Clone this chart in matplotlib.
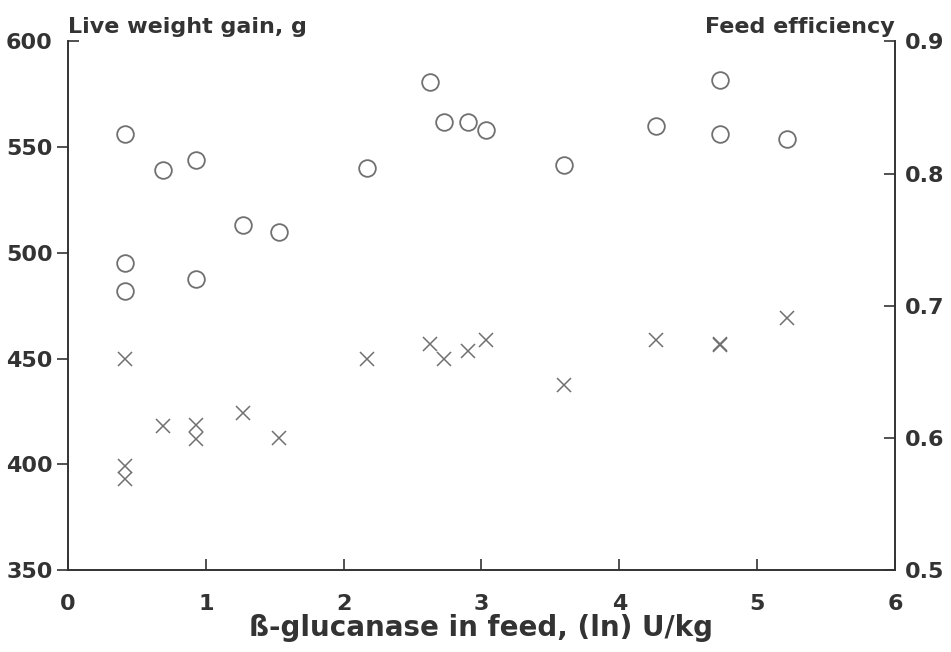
import matplotlib
matplotlib.use('Agg')
from matplotlib import pyplot as plt

plt.rcParams['font.family'] = 'DejaVu Sans'
plt.rcParams['font.weight'] = 'bold'

# enzyme dose, ln U/kg
dose = [0.41, 0.41, 0.41, 0.69, 0.93, 0.93, 1.27, 1.53, 2.17,
        2.63, 2.73, 2.90, 3.03, 3.60, 4.27, 4.73, 4.73, 5.22]
# live weight gain, g (open circles, left axis)
gain = [556, 495, 482, 539, 544, 487.5, 513, 510, 540,
        581, 562, 562, 558, 541.5, 560, 582, 556, 554]
# feed efficiency (crosses, right axis)
efficiency = [0.660, 0.579, 0.569, 0.609, 0.610, 0.599, 0.619, 0.600, 0.660,
              0.671, 0.660, 0.666, 0.674, 0.640, 0.674, 0.670, 0.671, 0.691]

x_ticks = [0, 1, 2, 3, 4, 5, 6]
gain_ticks = [350, 400, 450, 500, 550]
eff_ticks = [0.5, 0.6, 0.7, 0.8, 0.9]

ink = '#333333'
mark = '#707070'

fig = plt.figure(figsize=(9.51, 6.52), dpi=100)
ax = fig.add_axes([0.0715, 0.1258, 0.8695, 0.8106])
ax2 = ax.twinx()

ax.plot(dose, gain, linestyle='none', marker='o', markersize=12,
        markerfacecolor='none', markeredgecolor=mark, markeredgewidth=1.3)
ax2.plot(dose, efficiency, linestyle='none', marker='x', markersize=10,
         markeredgecolor=mark, markeredgewidth=1.1)

ax.set_xlim(0, 6)
ax.set_ylim(350, 600)
ax2.set_ylim(0.5, 0.9)

ax.set_xticks(x_ticks)
ax.set_yticks(gain_ticks)
# the top tick of the left axis points inwards
ax.set_yticks([600], labels=['600'], minor=True)
ax2.set_yticks(eff_ticks)
ax2.set_yticklabels(['0.5', '0.6', '0.7', '0.8', '0.9'])

for a in (ax, ax2):
    a.spines['top'].set_visible(False)
    for s in a.spines.values():
        s.set_color(ink)
        s.set_linewidth(1.2)

ax.tick_params(axis='y', which='major', direction='out', length=8, width=1.2,
               color=ink, labelcolor=ink, labelsize=16, pad=3)
ax.tick_params(axis='y', which='minor', direction='in', length=8, width=1.2,
               color=ink, labelcolor=ink, labelsize=16, pad=11)
ax.tick_params(axis='x', direction='in', length=8, width=1.2, color=ink,
               labelcolor=ink, labelsize=16, pad=17)
ax2.tick_params(axis='y', direction='in', length=8, width=1.2, color=ink,
                labelcolor=ink, labelsize=16, pad=7)

ax.set_xlabel('ß-glucanase in feed, (ln) U/kg', fontsize=20, fontweight='bold',
              color=ink, labelpad=0)
ax.text(0.0, 1.008, 'Live weight gain, g', transform=ax.transAxes,
        fontsize=16, fontweight='bold', color=ink, ha='left', va='bottom')
ax.text(1.0, 1.008, 'Feed efficiency', transform=ax.transAxes,
        fontsize=16, fontweight='bold', color=ink, ha='right', va='bottom')

plt.savefig('out.png', dpi=100)
